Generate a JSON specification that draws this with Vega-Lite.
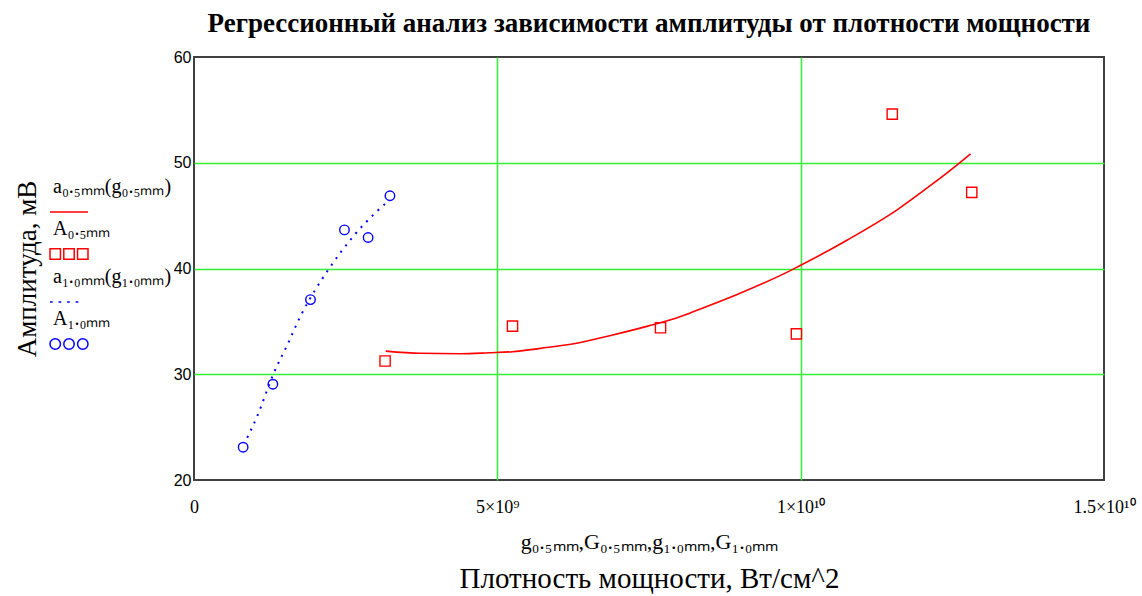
{
  "$schema": "https://vega.github.io/schema/vega-lite/v6.json",
  "width": 910,
  "height": 423,
  "autosize": {"type": "none"},
  "padding": {"left": 194, "top": 57, "right": 38, "bottom": 116},
  "background": "#ffffff",
  "config": {
    "view": {"stroke": "#404040", "strokeWidth": 2},
    "font": "Liberation Serif"
  },
  "title": {
    "text": "Регрессионный анализ зависимости амплитуды от плотности мощности",
    "font": "Liberation Serif",
    "fontSize": 27,
    "fontWeight": "bold",
    "color": "#000000",
    "anchor": "middle",
    "frame": "group",
    "offset": 11
  },
  "data": {
    "values": [
      {"series": "a05", "g": 3.16e9, "a": 32.19},
      {"series": "a05", "g": 3.73e9, "a": 31.98},
      {"series": "a05", "g": 4.39e9, "a": 31.94},
      {"series": "a05", "g": 4.86e9, "a": 32.03},
      {"series": "a05", "g": 5.25e9, "a": 32.13},
      {"series": "a05", "g": 5.71e9, "a": 32.45},
      {"series": "a05", "g": 6.26e9, "a": 32.88},
      {"series": "a05", "g": 6.87e9, "a": 33.67},
      {"series": "a05", "g": 7.48e9, "a": 34.55},
      {"series": "a05", "g": 8.02e9, "a": 35.45},
      {"series": "a05", "g": 8.18e9, "a": 35.8},
      {"series": "a05", "g": 9.01e9, "a": 37.68},
      {"series": "a05", "g": 9.83e9, "a": 39.8},
      {"series": "a05", "g": 10.0e9, "a": 40.3},
      {"series": "a05", "g": 10.77e9, "a": 42.7},
      {"series": "a05", "g": 11.59e9, "a": 45.55},
      {"series": "a05", "g": 12.14e9, "a": 47.85},
      {"series": "a05", "g": 12.61e9, "a": 49.95},
      {"series": "a05", "g": 12.8e9, "a": 50.85},

      {"series": "a10", "g": 0.877e9, "a": 24.0},
      {"series": "a10", "g": 1.04e9, "a": 26.0},
      {"series": "a10", "g": 1.306e9, "a": 30.0},
      {"series": "a10", "g": 1.54e9, "a": 32.8},
      {"series": "a10", "g": 1.756e9, "a": 35.5},
      {"series": "a10", "g": 2.0e9, "a": 38.0},
      {"series": "a10", "g": 2.222e9, "a": 39.95},
      {"series": "a10", "g": 2.44e9, "a": 41.7},
      {"series": "a10", "g": 2.634e9, "a": 43.1},
      {"series": "a10", "g": 2.96e9, "a": 45.1},
      {"series": "a10", "g": 3.185e9, "a": 46.3},

      {"series": "A05", "g": 3.15e9, "a": 31.25},
      {"series": "A05", "g": 5.25e9, "a": 34.55},
      {"series": "A05", "g": 7.69e9, "a": 34.4},
      {"series": "A05", "g": 9.93e9, "a": 33.82},
      {"series": "A05", "g": 11.51e9, "a": 54.6},
      {"series": "A05", "g": 12.82e9, "a": 47.2},

      {"series": "A10", "g": 0.81e9, "a": 23.1},
      {"series": "A10", "g": 1.3e9, "a": 29.06},
      {"series": "A10", "g": 1.92e9, "a": 37.06},
      {"series": "A10", "g": 2.48e9, "a": 43.65},
      {"series": "A10", "g": 2.87e9, "a": 42.93},
      {"series": "A10", "g": 3.23e9, "a": 46.88}
    ]
  },
  "encoding": {
    "y": {
      "field": "a",
      "type": "quantitative",
      "scale": {"domain": [20, 60], "nice": false, "zero": false},
      "axis": {
        "values": [20, 30, 40, 50, 60],
        "ticks": false,
        "domain": false,
        "labelFont": "Liberation Sans",
        "labelFontSize": 16,
        "labelColor": "#000000",
        "labelPadding": 3,
        "grid": true,
        "gridColor": {"condition": {"test": "datum.value > 20 && datum.value < 60", "value": "#33ee33"}, "value": "transparent"},
        "gridWidth": 1.5,
        "gridOpacity": 1,
        "title": "Амплитуда, мВ",
        "titleFont": "Liberation Serif",
        "titleFontSize": 27,
        "titleFontWeight": "normal",
        "titleColor": "#000000",
        "titlePadding": 132
      }
    }
  },
  "resolve": {"axis": {"x": "independent"}},
  "layer": [
    {
      "transform": [{"filter": "datum.series === 'a05'"}],
      "mark": {"type": "line", "strokeWidth": 1.6, "interpolate": "monotone"},
      "encoding": {
        "x": {
          "field": "g",
          "type": "quantitative",
          "scale": {"domain": [0, 1.5e10], "nice": false},
          "axis": {
            "orient": "bottom",
            "values": [0, 5e9, 1e10, 1.5e10],
            "labelExpr": "datum.value === 0 ? '0' : datum.value === 5e9 ? '5×10⁹' : datum.value === 1e10 ? '1×10¹⁰' : '1.5×10¹⁰'",
            "ticks": false,
            "domain": false,
            "labelFont": "Liberation Serif",
            "labelFontSize": 18,
            "labelColor": "#000000",
            "labelPadding": 18,
            "labelBound": false,
            "labelFlush": false,
            "labelOverlap": false,
            "grid": true,
            "gridColor": {"condition": {"test": "datum.value > 0 && datum.value < 1.5e10", "value": "#33ee33"}, "value": "transparent"},
            "gridWidth": 1.5,
            "gridOpacity": 1,
            "title": "g₀.₅ₘₘ,G₀.₅ₘₘ,g₁.₀ₘₘ,G₁.₀ₘₘ",
            "titleFont": "Liberation Serif",
            "titleFontSize": 22,
            "titleFontWeight": "normal",
            "titleColor": "#000000",
            "titlePadding": 15
          }
        },
        "color": {
          "field": "series",
          "type": "nominal",
          "scale": {"domain": ["a05", "A05", "a10", "A10"], "range": ["#ff0000", "#ff0000", "#0000ff", "#0000ff"]},
          "legend": {
            "orient": "none",
            "legendX": -145,
            "legendY": 135,
            "title": null,
            "symbolSize": 1444,
            "rowPadding": 4,
            "labelOffset": -36,
            "labelFont": "Liberation Serif",
            "labelFontSize": 20,
            "labelColor": "#000000",
            "labelLimit": 300,
            "labelExpr": "datum.value === 'a05' ? 'a₀.₅ₘₘ(g₀.₅ₘₘ)' : datum.value === 'A05' ? 'A₀.₅ₘₘ' : datum.value === 'a10' ? 'a₁.₀ₘₘ(g₁.₀ₘₘ)' : 'A₁.₀ₘₘ'",
            "encode": {
              "symbols": {
                "update": {
                  "shape": {"signal": "datum.value === 'a05' ? 'M-1,0H1' : datum.value === 'A05' ? 'M-1,-0.275h0.55v0.55h-0.55z M-0.275,-0.275h0.55v0.55h-0.55z M0.45,-0.275h0.55v0.55h-0.55z' : datum.value === 'a10' ? 'M-1,0h0.14M-0.55,0h0.14M-0.1,0h0.14M0.35,0h0.14' : 'M-1,0a0.275,0.275 0 1,0 0.55,0a0.275,0.275 0 1,0 -0.55,0z M-0.275,0a0.275,0.275 0 1,0 0.55,0a0.275,0.275 0 1,0 -0.55,0z M0.45,0a0.275,0.275 0 1,0 0.55,0a0.275,0.275 0 1,0 -0.55,0z'"},
                  "size": {"value": 1444},
                  "fill": {"value": "transparent"},
                  "stroke": {"scale": "color", "field": "value"},
                  "strokeWidth": {"value": 1.5},
                  "opacity": {"value": 1}
                }
              },
              "labels": {
                "update": {
                  "dy": {"value": -19},
                  "baseline": {"value": "alphabetic"}
                }
              }
            }
          }
        }
      }
    },
    {
      "transform": [{"filter": "datum.series === 'a10'"}],
      "mark": {"type": "line", "color": "#0000ff", "strokeWidth": 2, "strokeDash": [2, 6], "interpolate": "monotone"},
      "encoding": {
        "x": {
          "field": "g",
          "type": "quantitative",
          "axis": {
            "orient": "bottom",
            "labels": false,
            "ticks": false,
            "domain": false,
            "grid": false,
            "title": "Плотность мощности, Вт/см^2",
            "titleFont": "Liberation Serif",
            "titleFontSize": 29,
            "titleFontWeight": "normal",
            "titleColor": "#000000",
            "titlePadding": 84
          }
        }
      }
    },
    {
      "transform": [{"filter": "datum.series === 'A05'"}],
      "mark": {"type": "point", "shape": "square", "filled": false, "color": "#ff0000", "size": 105, "strokeWidth": 1.4, "opacity": 1},
      "encoding": {
        "x": {"field": "g", "type": "quantitative", "axis": null}
      }
    },
    {
      "transform": [{"filter": "datum.series === 'A10'"}],
      "mark": {"type": "point", "shape": "circle", "filled": false, "color": "#0000ff", "size": 90, "strokeWidth": 1.4, "opacity": 1},
      "encoding": {
        "x": {"field": "g", "type": "quantitative", "axis": null}
      }
    }
  ]
}
